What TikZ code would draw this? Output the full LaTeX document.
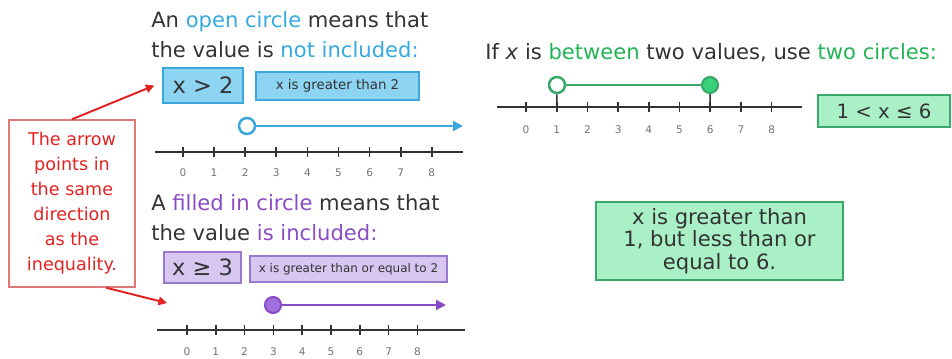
\documentclass[tikz,border=0pt]{standalone}
\usepackage{fontspec}
\setmainfont{DejaVu Sans}
\usetikzlibrary{arrows.meta,positioning,calc}

\definecolor{textgrey}{HTML}{333333}
\definecolor{bluetxt}{HTML}{35A9E1}
\definecolor{bluefill}{HTML}{8DD4F2}
\definecolor{blueline}{HTML}{3BA7DD}
\definecolor{purpletxt}{HTML}{8A4CC4}
\definecolor{purplefill}{HTML}{D6C6F0}
\definecolor{purpleline}{HTML}{9A78CC}
\definecolor{purpledot}{HTML}{A070DC}
\definecolor{greentxt}{HTML}{22B455}
\definecolor{greenfill}{HTML}{A9F0C6}
\definecolor{greenline}{HTML}{3AA868}
\definecolor{greendot}{HTML}{37D27A}
\definecolor{notered}{HTML}{E32222}
\definecolor{noteline}{HTML}{E07A7A}

\begin{document}
\begin{tikzpicture}[x=0.025cm,y=-0.025cm,
  heading/.style={inner sep=0pt,align=left,text=textgrey,font=\fontsize{15}{21.3}\selectfont},
  bigbox/.style={draw,line width=1pt,inner sep=0pt,text=textgrey,font=\fontsize{16}{19}\selectfont},
  smallbox/.style={draw,line width=1pt,inner sep=0pt,text=textgrey},
  numline/.style={line width=1.2pt,black!80},
  numlabel/.style={font=\fontsize{7.5}{8}\selectfont,text=black!55,inner sep=1pt},
  opendot/.style={circle,draw,fill=white,line width=1.8pt,minimum size=0.4cm,inner sep=0pt},
  filldot/.style={circle,draw,line width=1.5pt,minimum size=0.4cm,inner sep=0pt},
  ray/.style={line width=1.4pt,-{Triangle[length=7pt,width=7pt]}},
  pointer/.style={draw=notered,line width=1.4pt,-{Triangle[length=6pt,width=6pt]}}]

\useasboundingbox (0,0) rectangle (952,359);

% Open circle: x > 2
\node[heading,anchor=west] (head1) at (151,35)
  {An \textcolor{bluetxt}{open circle} means that\\the value is \textcolor{bluetxt}{not included:}};
\node[bigbox,fill=bluefill,draw=blueline,minimum width=2cm,minimum height=0.875cm] (gt) at (203,85.5) {x > 2};
\node[smallbox,fill=bluefill,draw=blueline,minimum width=4.075cm,minimum height=0.7cm,
  font=\fontsize{9.5}{11}\selectfont] (gtsay) at (337.5,86) {x is greater than 2};

\draw[numline] (155,152) -- (463,152);
\foreach \n in {0,...,8}
{
\draw[numline] ({183+31.1*\n},147) -- ({183+31.1*\n},157);
\node[numlabel] (a\n) at ({183+31.1*\n},173) {\n};
}
\node[opendot,draw=blueline] (oc) at (247,126) {};
\coordinate (ocend) at (463,126);
\draw[ray,blueline] (oc) -- (ocend);

% Filled circle: x >= 3
\node[heading,anchor=west] (head2) at (151,218)
  {A \textcolor{purpletxt}{filled in circle} means that\\the value \textcolor{purpletxt}{is included:}};
\node[bigbox,fill=purplefill,draw=purpleline,minimum width=1.925cm,minimum height=0.775cm] (ge) at (202.5,267.5) {x ≥ 3};
\node[smallbox,fill=purplefill,draw=purpleline,minimum width=4.925cm,minimum height=0.65cm,
  font=\fontsize{8.5}{10}\selectfont] (gesay) at (348.5,269) {x is greater than or equal to 2};

\draw[numline] (157,330) -- (465,330);
\foreach \n in {0,...,8}
{
\draw[numline] ({187+28.8*\n},325) -- ({187+28.8*\n},335);
\node[numlabel] (b\n) at ({187+28.8*\n},352) {\n};
}
\node[filldot,fill=purpledot,draw=purpletxt] (fc) at (273,305) {};
\coordinate (fcend) at (446,305);
\draw[ray,purpletxt] (fc) -- (fcend);

% Note about the arrow
\node[draw=noteline,line width=1pt,minimum width=3.15cm,minimum height=4.175cm,inner sep=0pt,
  align=center,text=notered,font=\fontsize{12.5}{17.8}\selectfont] (note) at (72,203.5)
  {The arrow\\points in\\the same\\direction\\as the\\inequality.};
\coordinate (pt2) at (167,303);
\draw[pointer] (note.north) -- ([xshift=-0.2cm]gt.west);
\draw[pointer] ([xshift=0.85cm]note.south) -- (pt2);

% Two circles: 1 < x <= 6
\node[heading,anchor=west] (head3) at (485,53)
  {If \textit{x} is \textcolor{greentxt}{between} two values, use \textcolor{greentxt}{two circles:}};

\draw[numline] (497,107) -- (802,107);
\foreach \n in {0,...,8}
{
\draw[numline] ({526+30.7*\n},102) -- ({526+30.7*\n},112);
\coordinate (ct\n) at ({526+30.7*\n},112);
\node[numlabel] (c\n) at ({526+30.7*\n},130) {\n};
}
\node[opendot,draw=greenline] (g1) at (557,85) {};
\node[filldot,fill=greendot,draw=greenline] (g6) at (710,85) {};
\draw[greenline,line width=1.4pt] (g1) -- (g6);
\draw[numline,line width=1pt] (g1) -- (ct1);
\draw[numline,line width=1pt] (g6) -- (ct6);

\node[bigbox,fill=greenfill,draw=greenline,minimum width=3.3cm,minimum height=0.8cm,
  font=\fontsize{14}{17}\selectfont] (between) at (884,111) {1 < x ≤ 6};
\node[bigbox,fill=greenfill,draw=greenline,minimum width=6.175cm,minimum height=1.95cm,align=center,
  font=\fontsize{15}{16}\selectfont] (betweensay) at (719.5,241)
  {x is greater than\\1, but less than or\\equal to 6.};

\end{tikzpicture}
\end{document}
